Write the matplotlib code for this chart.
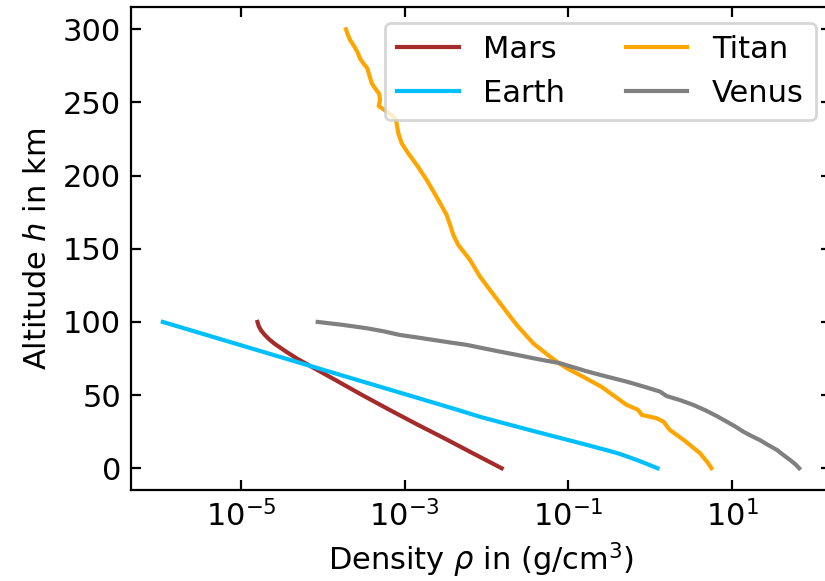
import numpy as np
import matplotlib
matplotlib.use('Agg')
import matplotlib.pyplot as plt

# altitude profiles (km) and densities for each body
mars_h = [0, 10, 20, 30, 40, 50, 60, 70, 75, 80, 85, 88, 91, 94, 97, 100]
mars_rho = [0.0153, 6.92e-3, 3.16e-3, 1.41e-3, 6.46e-4, 3.02e-4, 1.45e-4,
            6.92e-5, 4.79e-5, 3.47e-5, 2.57e-5, 2.21e-5, 1.95e-5, 1.76e-5,
            1.64e-5, 1.58e-5]

earth_h = [0, 2.5, 5, 7.5, 10, 12.5, 15, 17.5, 20, 25, 30, 35, 40, 50, 60,
           70, 80, 90, 100]
earth_rho = [1.23, 0.957, 0.736, 0.557, 0.414, 0.288, 0.195, 0.132, 0.0889,
             0.0401, 0.0184, 8.5e-3, 4.37e-3, 1.10e-3, 2.75e-4, 6.92e-5,
             1.74e-5, 4.37e-6, 1.10e-6]

titan_h = [0, 3.4, 10.3, 18.5, 26.2, 31.9, 34.2, 36.4, 40, 43.3, 49, 55.5,
           62, 68.4, 72, 76.3, 85.4, 98, 112.8, 121.9, 131, 142.4, 152.6,
           159.5, 165.1, 173.1, 183.4, 197.1, 207.3, 215.3, 222.1, 229, 238,
           241.5, 245.4, 247.6, 251.7, 255.8, 259.7, 263.2, 268.8, 273.4,
           276.8, 280.2, 284.8, 288.6, 292.8, 297.3, 300]
titan_rho = [5.62, 5.13, 4.07, 2.69, 1.74, 1.45, 1.20, 0.794, 0.708, 0.516,
             0.372, 0.257, 0.158, 0.0955, 0.0759, 0.0596, 0.0372, 0.0233,
             0.0146, 0.0110, 8.30e-3, 6.27e-3, 4.51e-3, 3.92e-3, 3.64e-3,
             3.25e-3, 2.57e-3, 1.85e-3, 1.40e-3, 1.10e-3, 9.16e-4, 8.34e-4,
             7.80e-4, 6.92e-4, 5.46e-4, 4.80e-4, 4.98e-4, 4.88e-4, 4.33e-4,
             3.94e-4, 3.68e-4, 3.48e-4, 3.11e-4, 2.83e-4, 2.62e-4, 2.39e-4,
             2.14e-4, 1.98e-4, 1.91e-4]

venus_h = [0, 2.5, 5.7, 9, 12.5, 16, 19.3, 22, 25, 28.5, 31.9, 35.5, 39.5,
           43.3, 46.5, 49.4, 52.4, 55.5, 59.2, 61.5, 63.8, 66.5, 68.4, 70,
           71.8, 73.5, 75.2, 77.5, 79.7, 82, 84.3, 86, 87.7, 89.5, 91.1, 93.5,
           95.7, 98, 100]
venus_rho = [66.5, 60.3, 51.3, 42.7, 35.5, 27.5, 21.9, 17.4, 13.8, 11.0,
             8.61, 6.61, 4.79, 3.37, 2.34, 1.58, 1.32, 0.871, 0.516, 0.355,
             0.245, 0.162, 0.126, 0.100, 0.0794, 0.0537, 0.0372, 0.0234,
             0.0146, 9.12e-3, 5.75e-3, 3.55e-3, 2.24e-3, 1.38e-3, 8.71e-4,
             5.62e-4, 3.42e-4, 1.74e-4, 8.61e-5]

x_ticks = [1e-5, 1e-3, 1e-1, 1e1]

fig = plt.figure(figsize=(4.125, 2.905), dpi=200)
ax = fig.add_axes([0.1588, 0.1563, 0.8485, 0.831])

ax.plot(mars_rho, mars_h, color='brown', lw=1.5, label='Mars')
ax.plot(earth_rho, earth_h, color='deepskyblue', lw=1.5, label='Earth')
ax.plot(titan_rho, titan_h, color='orange', lw=1.5, label='Titan')
ax.plot(venus_rho, venus_h, color='grey', lw=1.5, label='Venus')

ax.set_xscale('log')
ax.set_xticks(x_ticks)
ax.minorticks_off()
ax.tick_params(direction='in', top=True, right=True, labelsize=11)

ax.set_xlabel(r'Density $\rho$ in (g/cm$^3$)', fontsize=11, labelpad=3)
ax.set_ylabel(r'Altitude $h$ in km', fontsize=11)
ax.legend(ncol=2, loc='upper right', fontsize=11)

fig.savefig('out.png', dpi=200)
